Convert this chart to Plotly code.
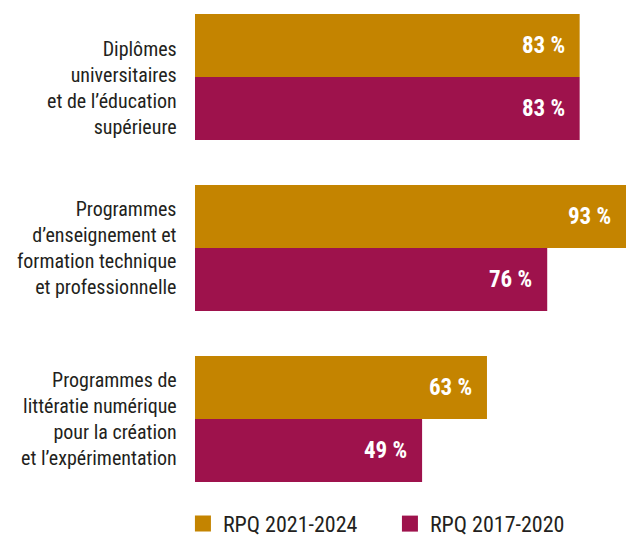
import plotly.graph_objects as go

categories = [
    "Diplômes<br>universitaires<br>et de l’éducation<br>supérieure",
    "Programmes<br>d’enseignement et<br>formation technique<br>et professionnelle",
    "Programmes de<br>littératie numérique<br>pour la création<br>et l’expérimentation",
]
series_names = ["RPQ 2021-2024", "RPQ 2017-2020"]
values_2021 = [83, 93, 63]
values_2017 = [83, 76, 49]
colors = ["#C48400", "#9E124C"]

FONT = "Roboto Condensed, DejaVu Sans Condensed, sans-serif"
TEXT_COLOR = "#231F20"
BAR_PX = 63               # height of one bar in px, used to place value labels
LABEL_NUDGE = [11, 0, 0]  # vertical offset (px, downward) of each category label

fig = go.Figure()
series = [values_2021, values_2017]
for k, (name, vals, col) in enumerate(zip(series_names, series, colors)):
    fig.add_trace(go.Bar(
        y=categories, x=vals, name=name, orientation="h",
        marker=dict(color=col, line=dict(width=0)),
        showlegend=False, hoverinfo="x+y",
    ))
    # legend swatch
    fig.add_trace(go.Scatter(
        x=[None], y=[None], mode="markers", name=name,
        marker=dict(symbol="square", size=16, color=col),
    ))
    # value labels inside the bar ends
    for cat, v in zip(categories, vals):
        fig.add_annotation(
            x=v, y=cat, text=f"<b>{v} %</b>", showarrow=False,
            xanchor="right", yanchor="middle", xshift=-13,
            yshift=(BAR_PX / 2) * (1 if k == 0 else -1),
            font=dict(family=FONT, size=23, color="white"),
        )

# category labels to the left of each bar group
for cat, nudge in zip(categories, LABEL_NUDGE):
    fig.add_annotation(
        x=0, xref="paper", y=cat, yref="y", text=cat, showarrow=False,
        xanchor="right", yanchor="middle", align="right", xshift=-16, yshift=-nudge,
        font=dict(family=FONT, size=20, color=TEXT_COLOR),
    )

fig.update_layout(
    width=626, height=536,
    margin=dict(l=195, r=0, t=14, b=53, autoexpand=False),
    barmode="group", bargap=0.263, bargroupgap=0,
    plot_bgcolor="white", paper_bgcolor="white",
    font=dict(family=FONT, color=TEXT_COLOR),
    xaxis=dict(range=[0, 93], visible=False, fixedrange=True),
    yaxis=dict(range=[2.374, -0.368], showgrid=False, showline=False, zeroline=False,
               showticklabels=False),
    legend=dict(orientation="h", x=-0.028, xanchor="left", y=-0.087, yanchor="middle",
                font=dict(size=22, family=FONT, color=TEXT_COLOR),
                itemsizing="trace", itemwidth=30, traceorder="normal", entrywidth=162),
    showlegend=True,
)

fig.write_html("out.html")
